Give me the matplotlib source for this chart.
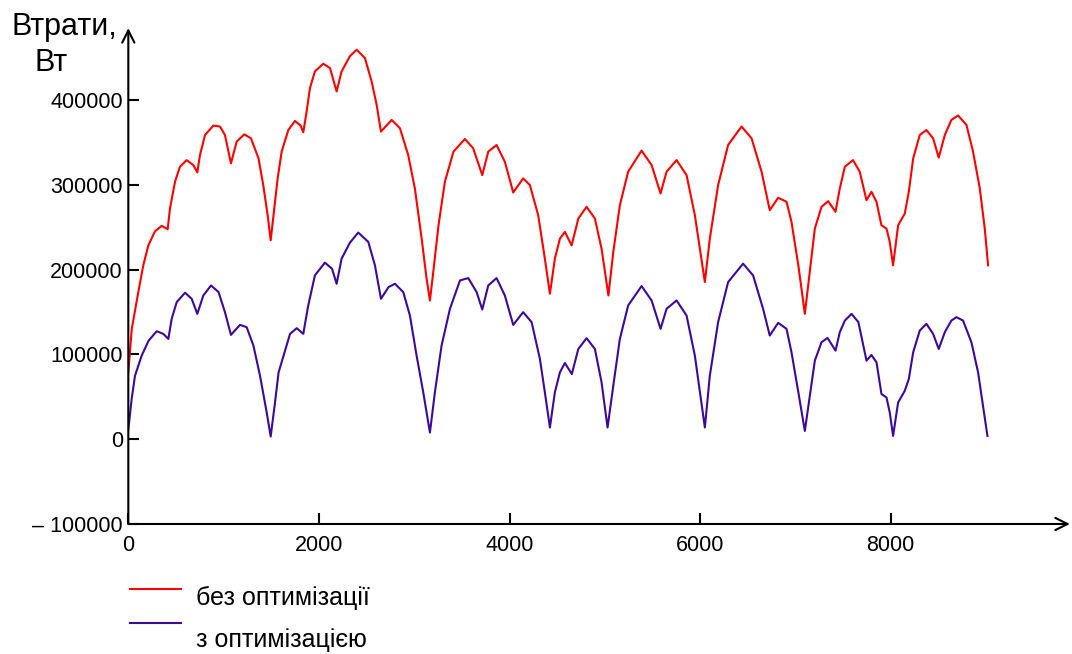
import numpy as np
import matplotlib.pyplot as plt
from matplotlib.lines import Line2D
from matplotlib.ticker import FuncFormatter

plt.rcParams['font.family'] = ['Liberation Sans', 'DejaVu Sans']

# Losses without optimisation
x_red = [0, 36, 105, 157, 210, 280, 350, 413, 437, 490, 542, 612, 682, 724, 752, 805,
         892, 962, 1014, 1077, 1137, 1217, 1287, 1366, 1416, 1462, 1494, 1528, 1567, 1609,
         1679, 1749, 1808, 1836, 1871, 1906, 1958, 2046, 2116, 2186, 2238, 2326, 2396, 2483,
         2553, 2606, 2651, 2763, 2850, 2937, 3007, 3078, 3130, 3165, 3200, 3255, 3322, 3412,
         3532, 3619, 3672, 3714, 3777, 3864, 3951, 4039, 4143, 4214, 4301, 4371, 4424, 4476,
         4529, 4581, 4652, 4722, 4809, 4896, 4966, 5038, 5089, 5158, 5245, 5386, 5491, 5585,
         5648, 5753, 5858, 5945, 6050, 6102, 6189, 6294, 6435, 6540, 6645, 6731, 6819, 6907,
         6959, 7031, 7099, 7151, 7204, 7274, 7344, 7421, 7466, 7519, 7605, 7675, 7746, 7798,
         7851, 7903, 7956, 7990, 8025, 8078, 8148, 8190, 8236, 8305, 8375, 8445, 8504, 8568,
         8637, 8707, 8795, 8864, 8935, 8987, 9022]
y_red = [79000, 130000, 173600, 205100, 228700, 245300, 251700, 247700, 272200, 303800,
         321500, 329300, 323400, 314800, 335300, 358900, 370000, 368900, 358900, 325400,
         351100, 359700, 355000, 331400, 299800, 264300, 234700, 268300, 307700, 339300,
         364800, 375500, 370000, 362100, 386600, 414200, 433900, 443000, 437900, 410300,
         433900, 452000, 459500, 449700, 422100, 394400, 362900, 376700, 366900, 335300,
         295900, 236700, 189300, 163700, 197300, 252400, 303800, 339300, 354200, 343200,
         325400, 311600, 339300, 347100, 327400, 291100, 307700, 299800, 264300, 213000,
         171600, 213000, 236700, 244600, 228700, 260300, 274200, 260300, 224800, 169600,
         220900, 276100, 315600, 340500, 323400, 289900, 315600, 329300, 311600, 264300,
         185400, 236700, 299800, 347100, 368900, 355000, 315600, 270200, 284900, 280100,
         256400, 205100, 147900, 197300, 248500, 274200, 280800, 268300, 295900, 321500,
         329300, 315600, 282000, 291900, 280100, 252400, 248500, 232800, 205100, 252400,
         266300, 291900, 331400, 358900, 364800, 355000, 332200, 358900, 376700, 381900,
         370800, 339300, 295900, 248500, 205100]

# Losses with optimisation
x_blue = [0, 35, 70, 140, 213, 298, 367, 420, 455, 508, 595, 665, 724, 787, 868, 947,
          1014, 1077, 1172, 1242, 1313, 1382, 1452, 1494, 1535, 1577, 1629, 1697, 1767,
          1836, 1888, 1958, 2063, 2137, 2186, 2238, 2326, 2413, 2518, 2588, 2651, 2731,
          2798, 2885, 2955, 3025, 3095, 3165, 3217, 3287, 3375, 3480, 3567, 3655, 3714,
          3777, 3864, 3951, 4039, 4143, 4232, 4319, 4371, 4424, 4476, 4529, 4581, 4654,
          4722, 4809, 4896, 4966, 5029, 5089, 5158, 5245, 5386, 5491, 5585, 5648, 5753,
          5858, 5945, 6050, 6102, 6189, 6294, 6451, 6556, 6661, 6731, 6819, 6907, 6959,
          7031, 7099, 7151, 7204, 7274, 7337, 7421, 7466, 7519, 7589, 7661, 7746, 7798,
          7851, 7903, 7956, 7990, 8025, 8078, 8148, 8190, 8236, 8305, 8375, 8445, 8504,
          8568, 8637, 8690, 8759, 8847, 8917, 8969, 9015]
y_blue = [11800, 47300, 74900, 98600, 116300, 127400, 124300, 118300, 142000, 161800,
          172800, 165700, 147900, 169600, 181400, 173600, 149900, 123100, 134900, 132200,
          110400, 74900, 31600, 3200, 39400, 78900, 98600, 124300, 131000, 124300, 157800,
          193300, 208300, 201200, 183400, 213000, 232000, 243800, 232800, 205100, 165700,
          179500, 183400, 173600, 145900, 98600, 55300, 7900, 55300, 110400, 153800,
          187300, 190100, 173600, 153000, 181400, 190100, 169600, 134900, 149900, 138100,
          94700, 55300, 13800, 55300, 78900, 89900, 76900, 106500, 119200, 106500, 67100,
          13800, 63100, 118300, 157800, 180700, 163700, 130200, 153800, 163700, 145900,
          98600, 13800, 74900, 138100, 185400, 207100, 193300, 153800, 122300, 137300,
          130200, 102600, 55300, 9800, 51200, 92700, 114400, 119500, 104500, 126300,
          140000, 147900, 138100, 92700, 99400, 90800, 53300, 49300, 31600, 3900, 43400,
          57200, 71000, 102600, 128200, 136100, 124300, 106500, 126300, 140000, 144000,
          140000, 114400, 78900, 39400, 3900]

x_ticks = [0, 2000, 4000, 6000, 8000]
y_ticks = [-100000, 0, 100000, 200000, 300000, 400000]
series_labels = ['без оптимізації', 'з оптимізацією']
red = '#ff0000'
blue = '#3c0a99'

fig = plt.figure(figsize=(10.72, 6.54), dpi=100)
ax = fig.add_axes([0.1197, 0.1988, 0.8783, 0.7582])

ax.plot(x_red, y_red, color=red, lw=1.5)
ax.plot(x_blue, y_blue, color=blue, lw=1.5)

ax.set_xlim(0, 9880)
ax.set_ylim(-100000, 485000)

for s in ['top', 'right', 'left', 'bottom']:
    ax.spines[s].set_visible(False)

# Mathcad style axes with open arrow heads
ax.annotate('', xy=(0, 1.0), xytext=(0, 0), xycoords='axes fraction',
            arrowprops=dict(arrowstyle='->', lw=1.5, color='black',
                            mutation_scale=22, shrinkA=0, shrinkB=0))
ax.annotate('', xy=(1.0, 0), xytext=(0, 0), xycoords='axes fraction',
            arrowprops=dict(arrowstyle='->', lw=1.5, color='black',
                            mutation_scale=22, shrinkA=0, shrinkB=0))

ax.set_xticks(x_ticks)
ax.set_yticks(y_ticks)
ax.yaxis.set_major_formatter(FuncFormatter(
    lambda v, p: ('\u2013 %d' % abs(v)) if v < 0 else '%d' % v))
ax.tick_params(direction='in', length=8, width=1.5, labelsize=15.5, colors='black')
ax.tick_params(axis='x', pad=8)
ax.tick_params(axis='y', pad=4)

fig.text(0.011, 0.958, 'Втрати,', fontsize=22, ha='left', va='center')
fig.text(0.032, 0.903, 'Вт', fontsize=22, ha='left', va='center')

# legend below the plot
for col, lab, yl, yt in [(red, series_labels[0], 0.0994, 0.085),
                         (blue, series_labels[1], 0.0474, 0.022)]:
    fig.add_artist(Line2D([0.1213, 0.169], [yl, yl], color=col, lw=1.5))
    fig.text(0.183, yt, lab, fontsize=18, ha='left', va='center')

fig.savefig('out.png', dpi=100)
